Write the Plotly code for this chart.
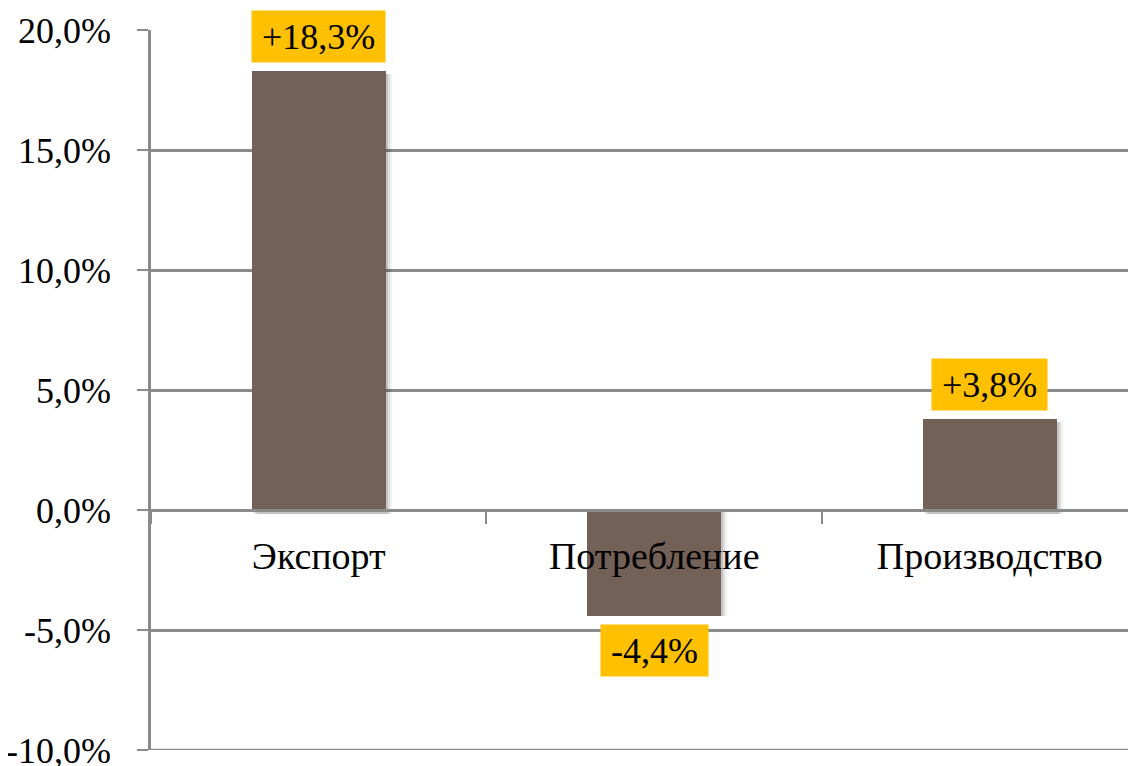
import plotly.graph_objects as go

categories = ["Экспорт", "Потребление", "Производство"]
values = [18.3, -4.4, 3.8]
labels = ["+18,3%", "-4,4%", "+3,8%"]
y_ticks = [-10, -5, 0, 5, 10, 15, 20]
y_tick_text = ["-10,0%", "-5,0%", "0,0%", "5,0%", "10,0%", "15,0%", "20,0%"]

BAR_COLOR = "#736056"
LABEL_BG = "#FFC000"
GRID = "#8A8A8A"
FONT = "Liberation Serif"
LABEL_SIZE = 36

# approximate Times glyph widths (em) to size the label boxes
GLYPH_EM = {"+": 0.564, "-": 0.333, ",": 0.25, "%": 0.833}


def text_width(s, size):
    return sum(GLYPH_EM.get(ch, 0.5) for ch in s) * size


fig = go.Figure()

# soft drop shadow under the bars
for shift, alpha in [(0.006, 0.12), (0.012, 0.08), (0.018, 0.05)]:
    fig.add_trace(
        go.Bar(
            x=categories,
            y=values,
            base=[-0.15 if v > 0 else 0 for v in values],
            width=0.40,
            offset=-0.20 + shift,
            marker=dict(color=f"rgba(0,0,0,{alpha})", line_width=0),
            hoverinfo="skip",
            showlegend=False,
        )
    )
fig.add_trace(
    go.Bar(
        x=categories,
        y=values,
        width=0.40,
        marker=dict(color=BAR_COLOR, line_width=0),
        showlegend=False,
    )
)

for cat, v, txt in zip(categories, values, labels):
    fig.add_annotation(
        x=cat,
        y=v,
        text=txt,
        showarrow=False,
        yanchor="bottom" if v > 0 else "top",
        yshift=8 if v > 0 else -8,
        bgcolor=LABEL_BG,
        borderpad=5,
        width=text_width(txt, LABEL_SIZE) + 10,
        height=41,
        font=dict(family=FONT, size=LABEL_SIZE, color="black"),
    )

# bottom gridline at -10 %
fig.add_hline(y=-10, line_color=GRID, line_width=2.5, layer="below")

# page body adds an 8px offset, margins compensate for it
fig.update_layout(
    width=1136,
    height=766,
    margin=dict(l=143, r=8, t=22, b=24, autoexpand=False),
    paper_bgcolor="white",
    plot_bgcolor="white",
    font=dict(family=FONT, size=36, color="black"),
    barmode="overlay",
    bargap=0,
)
fig.update_yaxes(
    range=[-10, 20],
    tickvals=y_ticks,
    ticktext=y_tick_text,
    showgrid=True,
    gridcolor=GRID,
    gridwidth=2.5,
    showline=True,
    linecolor=GRID,
    linewidth=2.5,
    ticks="outside",
    ticklen=11,
    tickwidth=2,
    tickcolor=GRID,
    ticklabelstandoff=19,
    ticklabeloverflow="allow",
    automargin=False,
    zeroline=False,
)
fig.update_xaxes(
    range=[-0.5, 2.436],
    anchor="free",
    position=1 / 3,
    showline=True,
    linecolor=GRID,
    linewidth=2.5,
    ticks="outside",
    tickson="boundaries",
    ticklen=12,
    tickwidth=2,
    tickcolor=GRID,
    ticklabelstandoff=12,
    tickfont=dict(size=38),
    automargin=False,
    showgrid=False,
)

fig.write_html("out.html")
